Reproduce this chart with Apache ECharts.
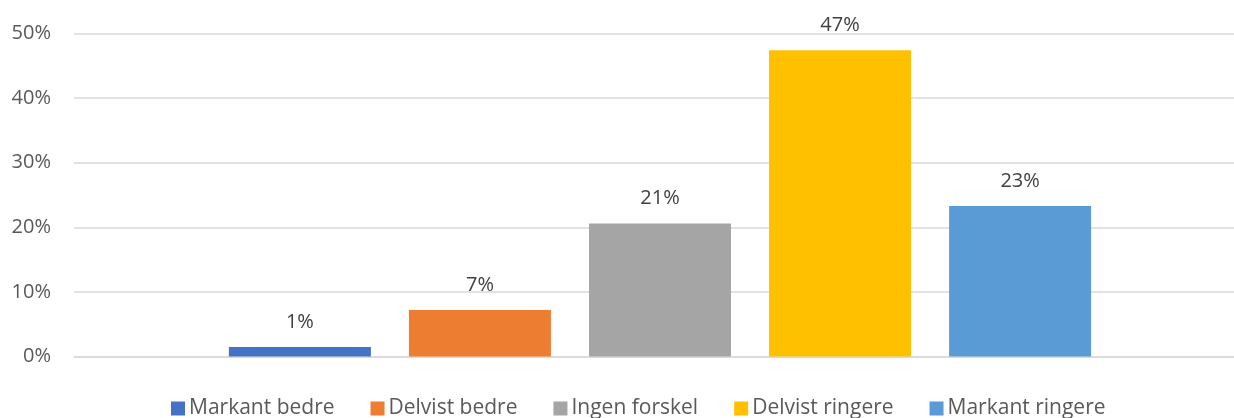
<!DOCTYPE html>
<html>
<head>
<meta charset="utf-8">
<script src="https://cdn.jsdelivr.net/npm/echarts@6/dist/echarts.min.js"></script>
<style>
  html, body { margin: 0; padding: 0; background: #ffffff; }
  #chart { width: 1234px; height: 418px; }
</style>
</head>
<body>
<div id="chart"></div>
<script>
// Answer categories (one bar per series) and their shares in percent
const seriesNames = ['Markant bedre', 'Delvist bedre', 'Ingen forskel', 'Delvist ringere', 'Markant ringere'];
const seriesValues = [1.47, 7.2, 20.6, 47.4, 23.3];
const seriesColors = ['#4472C4', '#ED7D31', '#A5A5A5', '#FFC000', '#5B9BD5'];
const yTicks = { min: 0, max: 50, interval: 10 };

const FONT = '"Open Sans", sans-serif';

const chart = echarts.init(document.getElementById('chart'), null, { renderer: 'canvas' });

const series = seriesNames.map((name, i) => ({
  name: name,
  type: 'bar',
  data: [seriesValues[i]],
  barWidth: 142,
  barGap: '26.8%',
  itemStyle: { color: seriesColors[i] },
  label: {
    show: true,
    position: 'top',
    distance: 15,
    color: '#404040',
    fontFamily: FONT,
    fontSize: 20,
    formatter: p => Math.round(p.value) + '%'
  }
}));

chart.setOption({
  animation: false,
  backgroundColor: '#ffffff',
  // plot area runs a little past the right edge of the canvas
  grid: { left: 74, width: 1172, top: 33.5, bottom: 61.5, containLabel: false, outerBoundsMode: 'none' },
  legend: {
    data: seriesNames,
    left: 166,
    bottom: -6,
    itemWidth: 14,
    itemHeight: 14,
    itemGap: 36,
    icon: 'rect',
    textStyle: { color: '#595959', fontFamily: FONT, fontSize: 21, padding: [0, 0, 0, -1] }
  },
  xAxis: {
    type: 'category',
    data: [''],
    axisTick: { show: false },
    axisLabel: { show: false },
    axisLine: { lineStyle: { color: '#D9D9D9', width: 1.5 } }
  },
  yAxis: {
    type: 'value',
    min: yTicks.min,
    max: yTicks.max,
    interval: yTicks.interval,
    axisLine: { show: false },
    axisTick: { show: false },
    axisLabel: {
      margin: 23,
      color: '#595959',
      fontFamily: FONT,
      fontSize: 20,
      formatter: '{value}%'
    },
    splitLine: { lineStyle: { color: '#D9D9D9', width: 1.5 } }
  },
  series: series
});
</script>
</body>
</html>
